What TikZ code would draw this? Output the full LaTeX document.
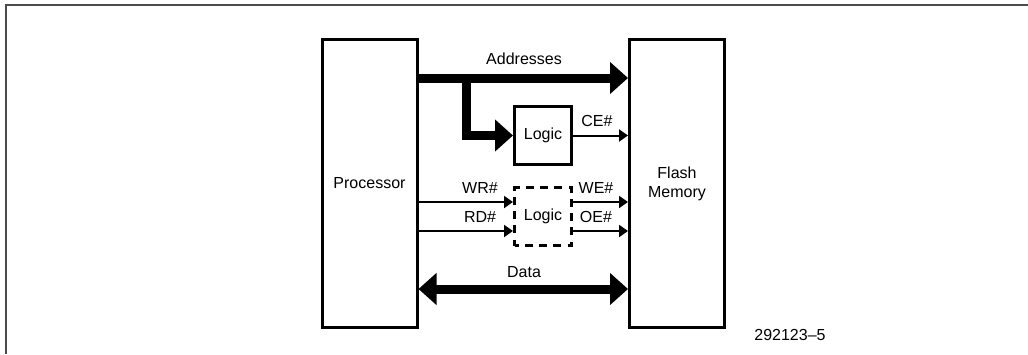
\documentclass[tikz,border=0pt]{standalone}
\usepackage{fontspec}
\setmainfont{Liberation Sans}
\usetikzlibrary{arrows.meta}

\begin{document}
\begin{tikzpicture}[x=1pt,y=-1pt,
  every node/.style={font=\fontsize{16}{19}\selectfont},
  unit/.style={draw,line width=3pt,minimum width=95pt,minimum height=288pt,inner sep=0pt,align=center},
  logicbox/.style={draw,line width=3pt,minimum width=57pt,minimum height=58pt,inner sep=0pt},
  dashbox/.style={logicbox,dash pattern=on 8pt off 6.25pt,dash phase=4pt},
  bus/.style={line width=9pt,line join=miter,-{Triangle[length=18pt,width=31pt]}},
  sig/.style={line width=2pt,-{Triangle[length=9pt,width=12pt]}},
  lbl/.style={inner sep=0pt}]
  \useasboundingbox (0,0) rectangle (1028,354);
  \draw[gray!60!black,line width=1.5pt] (6,354) -- (6,5) -- (1028,5);
  % the two units
  \node[unit] (proc) at (369.5,183.5) {Processor};
  \node[unit] (flash) at (677,183.5) {Flash\\Memory};
  % logic blocks
  \node[logicbox] (celogic) at (543,135.5) {Logic};
  \node[dashbox] (rwlogic) at (543,216.5) {Logic};
  % bus levels
  \coordinate (addr) at (0,78);
  \coordinate (split) at (466,78);
  \coordinate (wr) at (0,202);
  \coordinate (rd) at (0,231);
  \coordinate (data) at (0,289);
  % addresses
  \draw[bus] (proc.east |- addr) -- (flash.west |- addr);
  \draw[bus] (split) |- (celogic.west);
  \draw[sig] (celogic.east) -- (flash.west |- celogic.east);
  % control lines
  \draw[sig] (proc.east |- wr) -- (rwlogic.west |- wr);
  \draw[sig] (proc.east |- rd) -- (rwlogic.west |- rd);
  \draw[sig] (rwlogic.east |- wr) -- (flash.west |- wr);
  \draw[sig] (rwlogic.east |- rd) -- (flash.west |- rd);
  % data
  \draw[bus,{Triangle[length=18pt,width=31pt]}-{Triangle[length=18pt,width=31pt]}] (proc.east |- data) -- (flash.west |- data);
  % labels
  \node[lbl] (addrlbl) at (524,59) {Addresses};
  \node[lbl] (celbl) at (597,121) {CE\#};
  \node[lbl] (wrlbl) at (480,188) {WR\#};
  \node[lbl] (rdlbl) at (480,217) {RD\#};
  \node[lbl] (welbl) at (596,188) {WE\#};
  \node[lbl] (oelbl) at (596,217) {OE\#};
  \node[lbl] (datalbl) at (524,272) {Data};
  \node[lbl] (figno) at (790,335) {292123--5};
\end{tikzpicture}
\end{document}
